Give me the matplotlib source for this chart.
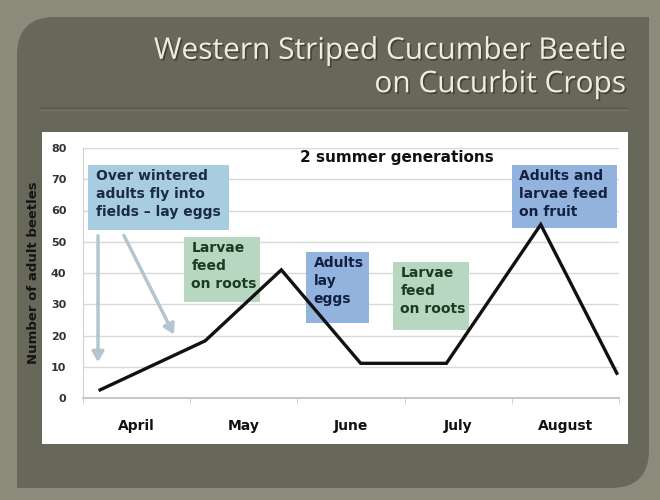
import numpy as np
import matplotlib.pyplot as plt
import matplotlib.patheffects as pe
from matplotlib.patches import FancyBboxPatch, Rectangle
from matplotlib.ticker import FixedLocator


# month positions are category indices (April = 0)
MONTHS = ["April", "May", "June", "July", "August"]
SEASON_POS = [-0.34, 0.64, 1.35, 2.09, 2.89, 3.77, 4.48]
BEETLES = [2.6, 18.3, 41, 11.1, 11.1, 55.5, 7.9]
Y_TICKS = [0, 10, 20, 30, 40, 50, 60, 70, 80]

TITLE = "Western Striped Cucumber Beetle\non Cucurbit Crops"
Y_LABEL = "Number of adult beetles"
NOTE = "2 summer generations"

BLUE_LIGHT = "#a9cde0"
GREEN = "#b7d7c0"
BLUE = "#93b3df"

# (text, x0, x1, y0, y1, face, text colour)
BOXES = [
    ("Over wintered\nadults fly into\nfields \u2013 lay eggs", -0.45, 0.86, 53.8, 74.6, BLUE_LIGHT, "#1b2a48"),
    ("Larvae\nfeed\non roots", 0.44, 1.15, 30.7, 51.5, GREEN, "#1f3a22"),
    ("Adults\nlay\neggs", 1.58, 2.17, 24.0, 46.7, BLUE, "#13213f"),
    ("Larvae\nfeed\non roots", 2.39, 3.10, 21.8, 43.5, GREEN, "#1f3a22"),
    ("Adults and\nlarvae feed\non fruit", 3.50, 4.48, 54.4, 74.6, BLUE, "#13213f"),
]


def draw_background(fig):
    bg = fig.add_axes([0, 0, 1, 1], zorder=0)
    bg.set_xlim(0, 660)
    bg.set_ylim(500, 0)
    bg.axis("off")

    bg.add_patch(Rectangle((0, 0), 660, 500, color="#8a8b7b"))
    panel = "#676859"
    bg.add_patch(FancyBboxPatch((52, 52), 562, 401,
                                boxstyle="round,pad=35,rounding_size=38",
                                color=panel, lw=0))
    # square corners top-right / bottom-left
    bg.add_patch(Rectangle((590, 17), 59, 60, color=panel, lw=0))
    bg.add_patch(Rectangle((17, 430), 60, 58, color=panel, lw=0))

    bg.plot([40, 628], [108, 108], color="#5b5c4f", lw=1.2)
    bg.plot([40, 628], [110, 110], color="#73756a", lw=0.8)

    bg.add_patch(Rectangle((42, 132), 586, 312, color="white", lw=0))

    bg.text(626, 68, TITLE, ha="right", va="center", fontsize=21.5,
            family="Open Sans", color="#eeeddf", linespacing=1.2,
            path_effects=[pe.SimplePatchShadow(offset=(1.2, -1.2),
                                               shadow_rgbFace="#33342c",
                                               alpha=0.7),
                          pe.Normal()])


def main():
    fig = plt.figure(figsize=(6.6, 5.0), dpi=100)
    draw_background(fig)

    ax = fig.add_axes([83 / 660, 102 / 500, 536 / 660, 250 / 500], zorder=1)
    ax.patch.set_alpha(0)

    ax.set_xlim(-0.5, len(MONTHS) - 0.5)
    ax.set_ylim(0, 80)
    ax.set_yticks(Y_TICKS)
    ax.set_yticklabels([str(t) for t in Y_TICKS], fontsize=8, color="#333333",
                       fontweight="bold")
    ax.set_xticks(np.arange(len(MONTHS)))
    ax.set_xticklabels(MONTHS, fontsize=10, fontweight="bold", color="#111111")
    ax.xaxis.set_minor_locator(FixedLocator(np.arange(len(MONTHS) + 1) - 0.5))
    ax.tick_params(axis="x", which="major", length=0, pad=15)
    ax.tick_params(axis="x", which="minor", length=4, color="#cccccc")
    ax.tick_params(axis="y", length=0, pad=12)

    ax.grid(axis="y", color="#d8d8d8", lw=1)
    ax.set_axisbelow(True)
    for side in ["top", "right"]:
        ax.spines[side].set_visible(False)
    ax.spines["left"].set_color("#d0d0d0")
    ax.spines["bottom"].set_color("#c8c8c8")
    ax.spines["bottom"].set_linewidth(1.5)

    ax.set_ylabel(Y_LABEL, fontsize=9.5, fontweight="bold", color="#151515",
                  labelpad=8)

    for text, x0, x1, y0, y1, face, tcol in BOXES:
        ax.add_patch(Rectangle((x0, y0), x1 - x0, y1 - y0, color=face,
                               lw=0, zorder=2))
        ax.text(x0 + 0.07, y1 - 1.3, text, ha="left", va="top", fontsize=10,
                fontweight="bold", color=tcol, linespacing=1.35, zorder=3)

    ax.text(2.43, 77, NOTE, ha="center", va="center", fontsize=11,
            fontweight="bold", color="#111111", zorder=3)

    arrow = dict(arrowstyle="-|>,head_width=0.35,head_length=0.6",
                 color="#b3c6cf", lw=2.5)
    ax.annotate("", xy=(-0.36, 10.6), xytext=(-0.36, 52.8), arrowprops=arrow,
                zorder=2)
    ax.annotate("", xy=(0.36, 19.5), xytext=(-0.13, 52.8), arrowprops=arrow,
                zorder=2)

    ax.plot(SEASON_POS, BEETLES, color="#111111", lw=2.4, zorder=4,
            solid_joinstyle="miter", clip_on=False)

    fig.savefig("out.png", dpi=100)


if __name__ == "__main__":
    main()
